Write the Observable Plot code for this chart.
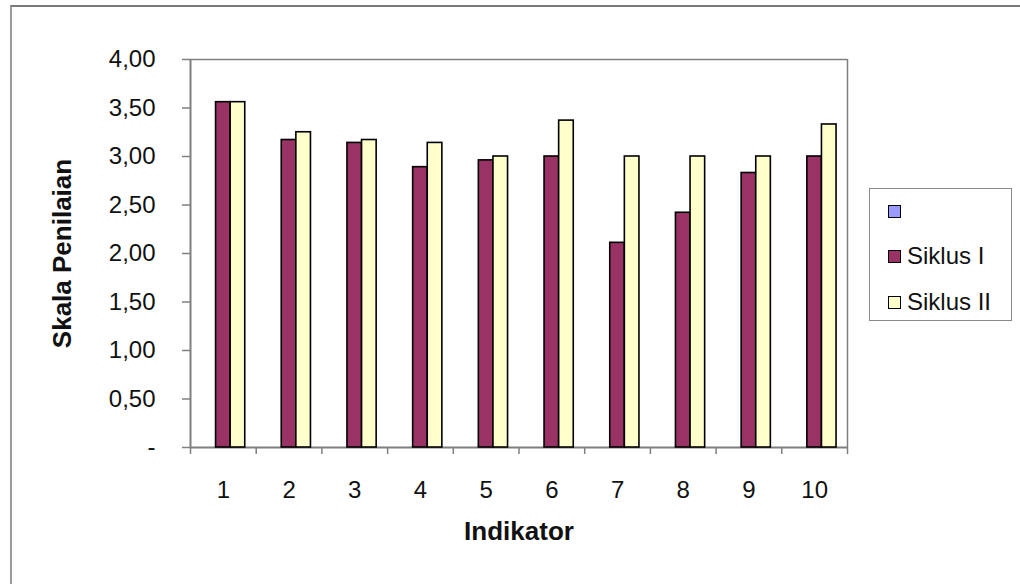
<!DOCTYPE html>
<html>
<head>
<meta charset="utf-8">
<script src="https://cdn.jsdelivr.net/npm/d3@7"></script>
<script src="https://cdn.jsdelivr.net/npm/@observablehq/plot@0.6"></script>
<style>
  html, body { margin: 0; padding: 0; background: #fff; }
  #wrap { position: relative; width: 1020px; height: 584px; overflow: hidden; font-family: "Liberation Sans", Arial, sans-serif; }
  #outer { position: absolute; left: 10px; top: 5px; right: -10px; bottom: -10px; border-top: 2px solid #7a7a7a; border-left: 2px solid #9a9a9a; }
  #chart { position: absolute; left: 0; top: 0; }
  #legend { position: absolute; left: 869px; top: 188px; width: 143px; height: 133px; border: 1.5px solid #8a8a8a; background: #fff; box-sizing: border-box; }
  .item { position: absolute; left: 18px; display: flex; align-items: center; font-size: 24px; color: #111; line-height: 1; }
  .sw { width: 11px; height: 11px; border: 1.5px solid #000; margin-right: 6px; flex: none; }
</style>
</head>
<body>
<div id="wrap">
  <div id="outer"></div>
  <div id="chart"></div>
  <div id="legend"></div>
</div>
<script>
// ---- data ----
const indikator = [1, 2, 3, 4, 5, 6, 7, 8, 9, 10];
const seriesNames = ["", "Siklus I", "Siklus II"];
const seriesColors = ["#9999FF", "#993366", "#FFFFCC"];
const siklusI  = [3.56, 3.17, 3.14, 2.89, 2.96, 3.00, 2.11, 2.42, 2.83, 3.00];
const siklusII = [3.56, 3.25, 3.17, 3.14, 3.00, 3.37, 3.00, 3.00, 3.00, 3.33];
const yTicks = [0, 0.5, 1, 1.5, 2, 2.5, 3, 3.5, 4];
const xBoundaries = [0.5, 1.5, 2.5, 3.5, 4.5, 5.5, 6.5, 7.5, 8.5, 9.5, 10.5];

// table: series index 0 is the empty (blank) series with no values
const seriesValues = [null, siklusI, siklusII];
const rows = [];
seriesValues.forEach((vals, k) => {
  if (!vals) return;
  indikator.forEach((ind, i) => rows.push({ind, k, series: seriesNames[k], value: vals[i]}));
});
const nSlots = seriesNames.length + 1.5; // gap width 150%
const slot = 1 / nSlots;

const fmt = d => d === 0 ? "-" : d.toFixed(2).replace(".", ",");
const axisGray = "#7f7f7f";

const chart = Plot.plot({
  width: 1020,
  height: 584,
  marginLeft: 190,
  marginRight: 173,
  marginTop: 59,
  marginBottom: 137,
  style: { fontFamily: "'Liberation Sans', Arial, sans-serif", background: "transparent", color: "#111" },
  x: { type: "linear", domain: [0.5, 10.5] },
  y: { domain: [0, 4] },
  color: { domain: seriesNames, range: seriesColors },
  marks: [
    Plot.ruleY([4], { stroke: axisGray, strokeWidth: 1.5 }),
    Plot.ruleX([10.5], { stroke: axisGray, strokeWidth: 1.5 }),
    Plot.ruleX([0.5], { stroke: axisGray, strokeWidth: 2 }),
    Plot.ruleY([0], { stroke: axisGray, strokeWidth: 2 }),
    Plot.axisY({ ticks: yTicks, tickSize: 8, tickPadding: 27, tickFormat: fmt, fontSize: 24, label: null, stroke: axisGray, strokeWidth: 1.5, fill: "#111" }),
    Plot.axisX({ ticks: xBoundaries, tickSize: 7, tickFormat: () => "", label: null, stroke: axisGray, strokeWidth: 1.5 }),
    Plot.axisX({ ticks: indikator, tickSize: 0, tickPadding: 33, tickFormat: d => String(d), fontSize: 24, label: null, fill: "#111" }),
    Plot.rect(rows, {
      x1: d => d.ind - 0.5 + (0.75 + d.k) * slot,
      x2: d => d.ind - 0.5 + (1.75 + d.k) * slot,
      y1: 0,
      y2: "value",
      fill: "series",
      stroke: "#000",
      strokeWidth: 1.6
    }),
    Plot.text(["Skala Penilaian"], { frameAnchor: "left", textAnchor: "middle", lineAnchor: "middle", rotate: -90, dx: -128, fontSize: 26, fontWeight: "bold", fill: "#111" }),
    Plot.text(["Indikator"], { frameAnchor: "bottom", textAnchor: "middle", lineAnchor: "middle", dy: 84, fontSize: 26, fontWeight: "bold", fill: "#111" })
  ]
});
document.getElementById("chart").appendChild(chart);

// legend
const legend = document.getElementById("legend");
const itemTops = [9, 54, 100];
seriesNames.forEach((name, k) => {
  const item = document.createElement("div");
  item.className = "item";
  item.style.top = itemTops[k] + "px";
  const sw = document.createElement("span");
  sw.className = "sw";
  sw.style.background = seriesColors[k];
  const label = document.createElement("span");
  label.textContent = name;
  label.style.minHeight = "26px";
  label.style.lineHeight = "26px";
  item.appendChild(sw);
  item.appendChild(label);
  legend.appendChild(item);
});
</script>
</body>
</html>
